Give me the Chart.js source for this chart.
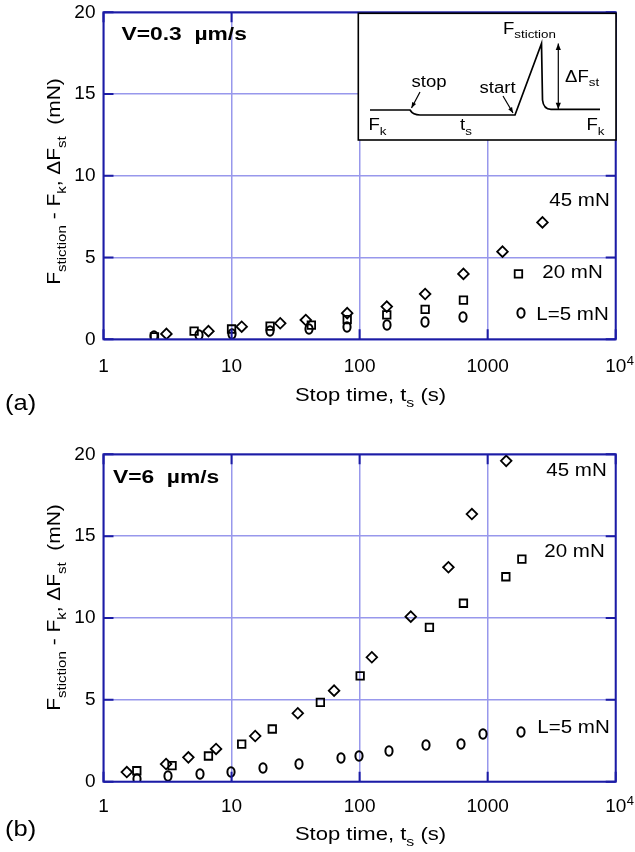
<!DOCTYPE html>
<html>
<head>
<meta charset="utf-8">
<script src="https://cdn.jsdelivr.net/npm/chart.js@4.4.1/dist/chart.umd.min.js"></script>
<style>
  html, body { margin: 0; padding: 0; background: #fff; }
  canvas { display: block; }
</style>
</head>
<body>
<canvas id="chartA" width="635" height="426"></canvas>
<canvas id="chartB" width="635" height="426"></canvas>
<script>
// axis ticks
const xTicks = [1, 10, 100, 1000, 10000];
const yTicks = [0, 5, 10, 15, 20];

// (a) V = 0.3 um/s : stop time (s) and Fstiction - Fk (mN)
const tA45 = [3.1, 6.6, 12, 24, 38, 80, 163, 325, 647, 1306, 2680];
const fA45 = [0.33, 0.5, 0.77, 0.98, 1.18, 1.6, 2.0, 2.77, 4.0, 5.36, 7.15];
const tA20 = [2.5, 5.1, 10, 20, 42, 80, 163, 325, 647, 1740];
const fA20 = [0.15, 0.5, 0.63, 0.81, 0.87, 1.2, 1.49, 1.83, 2.4, 4.0];
const tA5 = [2.5, 5.6, 10, 19.8, 40, 80, 163, 325, 647, 1830];
const fA5 = [0.2, 0.25, 0.32, 0.53, 0.61, 0.77, 0.85, 1.08, 1.35, 1.6];

// (b) V = 6 um/s
const tB45 = [1.52, 3.08, 4.6, 7.57, 15.3, 32.9, 63.2, 124.6, 251, 494, 753, 1396];
const fB45 = [0.59, 1.08, 1.49, 2.0, 2.79, 4.18, 5.56, 7.6, 10.08, 13.1, 16.35, 19.6];
const tB20 = [1.82, 3.43, 6.6, 12, 20.8, 49.4, 101, 351, 647, 1387, 1850];
const fB20 = [0.67, 0.98, 1.57, 2.3, 3.22, 4.85, 6.46, 9.43, 10.9, 12.52, 13.6];
const tB5 = [1.82, 3.21, 5.7, 9.9, 17.5, 33.7, 71.3, 99.6, 170, 331, 617, 927, 1816];
const fB5 = [0.15, 0.35, 0.45, 0.57, 0.86, 1.08, 1.43, 1.57, 1.89, 2.24, 2.3, 2.9, 3.05];

const FONT = '"Liberation Sans", Arial, Helvetica, sans-serif';
const SX = 1.16;               // the original lettering is a bit wide
const GRID = 'rgb(152,152,236)';
const FRAME = 'rgb(28,28,165)';

function pts(t, f) { return t.map((v, i) => ({ x: v, y: f[i] })); }

// text with sub/superscript parts: [[text, 'sub'|'sup'|undefined], ...]
function rich(ctx, parts, x, y, o) {
  const size = o.size, sx = o.sx || SX, wt = o.bold ? 'bold ' : '';
  const list = parts.map(([t, k]) => {
    const s = k ? size * 0.72 : size;
    ctx.font = wt + s + 'px ' + FONT;
    return { t, k, s, w: ctx.measureText(t).width };
  });
  const total = list.reduce((a, p) => a + p.w, 0);
  ctx.save();
  ctx.translate(x, y);
  if (o.rot) ctx.rotate(o.rot);
  ctx.scale(sx, 1);
  let cx = o.align === 'center' ? -total / 2 : o.align === 'right' ? -total : 0;
  ctx.fillStyle = '#000';
  ctx.textAlign = 'left';
  ctx.textBaseline = 'alphabetic';
  list.forEach(p => {
    ctx.font = wt + p.s + 'px ' + FONT;
    const dy = p.k === 'sub' ? size * 0.3 : p.k === 'sup' ? -size * 0.42 : 0;
    ctx.fillText(p.t, cx, dy);
    cx += p.w;
  });
  ctx.restore();
}

function ellipseMarker() {
  const c = document.createElement('canvas');
  c.width = 12; c.height = 14;
  const g = c.getContext('2d');
  g.lineWidth = 2;
  g.strokeStyle = '#000';
  g.beginPath();
  g.ellipse(6, 7, 3.6, 4.7, 0, 0, Math.PI * 2);
  g.stroke();
  return c;
}
const ELL = ellipseMarker();

function arrow(ctx, x1, y1, x2, y2, head) {
  ctx.beginPath(); ctx.moveTo(x1, y1); ctx.lineTo(x2, y2); ctx.stroke();
  const a = Math.atan2(y2 - y1, x2 - x1);
  ctx.beginPath();
  ctx.moveTo(x2, y2);
  ctx.lineTo(x2 - head * Math.cos(a - 0.38), y2 - head * Math.sin(a - 0.38));
  ctx.lineTo(x2 - head * Math.cos(a + 0.38), y2 - head * Math.sin(a + 0.38));
  ctx.closePath();
  ctx.fill();
}

// frame, inward ticks, titles and labels
const decor = {
  id: 'decor',
  beforeDatasetsDraw(chart) {
    // keep the ellipse image markers sharp
    chart.ctx.imageSmoothingEnabled = false;
  },
  afterDraw(chart, args, o) {
    const ctx = chart.ctx, ca = chart.chartArea;
    const xs = chart.scales.x, ys = chart.scales.y;
    ctx.imageSmoothingEnabled = true;
    ctx.save();
    ctx.strokeStyle = FRAME;
    ctx.lineWidth = 2;
    xTicks.forEach(v => {
      const px = xs.getPixelForValue(v);
      ctx.beginPath();
      ctx.moveTo(px, ca.bottom); ctx.lineTo(px, ca.bottom - 10);
      ctx.moveTo(px, ca.top); ctx.lineTo(px, ca.top + 10);
      ctx.stroke();
    });
    yTicks.forEach(v => {
      const py = ys.getPixelForValue(v);
      ctx.beginPath();
      ctx.moveTo(ca.left, py); ctx.lineTo(ca.left + 10, py);
      ctx.moveTo(ca.right, py); ctx.lineTo(ca.right - 10, py);
      ctx.stroke();
    });
    ctx.strokeRect(ca.left, ca.top, ca.right - ca.left, ca.bottom - ca.top);
    ctx.restore();

    // superscript of the 10^4 tick
    ctx.save();
    ctx.font = '19px ' + FONT;
    const w10 = ctx.measureText('10').width;
    ctx.restore();
    rich(ctx, [['4']], xs.getPixelForValue(10000) + w10 / 2 + 0.6, ca.bottom + o.tickPad + 9.5, { size: 13, sx: 1 });

    // axis titles
    rich(ctx, [['F'], ['stiction', 'sub'], [' - F'], ['k', 'sub'], [', \u0394F'], ['st', 'sub'], ['  (mN)']],
      60, 181.5, { size: 19, align: 'center', rot: -Math.PI / 2, sx: 1.1 });
    rich(ctx, [['Stop time, t'], ['s', 'sub'], [' (s)']], 370.5, ca.bottom + o.titleDy, { size: 19, align: 'center' });
    rich(ctx, [[o.panel]], 5, 410, { size: 22 });
    rich(ctx, [[o.speed]], o.speedX, ca.top + o.speedDy, { size: 19, bold: true, sx: 1.2 });

    // load labels
    o.loads.forEach(l => {
      rich(ctx, [[l.text]], ca.right - l.dx, ys.getPixelForValue(l.y), { size: 18, align: 'right', sx: 1.14 });
    });

    if (o.inset) drawInset(ctx);
  }
};

function drawInset(ctx) {
  const L = 358.3, T = 13.3, R = 616, B = 140;
  ctx.save();
  ctx.fillStyle = '#fff';
  ctx.fillRect(L, T, R - L, B - T);
  ctx.strokeStyle = '#000';
  ctx.lineWidth = 1.6;
  ctx.strokeRect(L, T, R - L, B - T);

  // friction trace: sliding, stop, hold, start, peak, drop
  ctx.lineWidth = 1.7;
  ctx.beginPath();
  ctx.moveTo(370, 110);
  ctx.lineTo(410, 110);
  ctx.quadraticCurveTo(413, 115, 420, 115);
  ctx.lineTo(515, 115);
  ctx.lineTo(541.5, 43.5);
  ctx.lineTo(542.5, 100);
  ctx.quadraticCurveTo(543.5, 109.3, 551, 109.3);
  ctx.lineTo(600, 109.3);
  ctx.stroke();

  ctx.fillStyle = '#000';
  ctx.lineWidth = 1.2;
  arrow(ctx, 420, 92, 411.5, 108, 6);
  arrow(ctx, 503, 96, 513, 113, 6);
  arrow(ctx, 558.3, 76, 558.3, 43.5, 7);
  arrow(ctx, 558.3, 76, 558.3, 109.3, 7);
  ctx.restore();

  rich(ctx, [['F'], ['stiction', 'sub']], 503, 33.5, { size: 16 });
  rich(ctx, [['\u0394F'], ['st', 'sub']], 565, 81.5, { size: 16 });
  rich(ctx, [['stop']], 411.5, 87, { size: 16 });
  rich(ctx, [['start']], 479.5, 93, { size: 16 });
  rich(ctx, [['F'], ['k', 'sub']], 368.5, 130, { size: 16 });
  rich(ctx, [['t'], ['s', 'sub']], 460, 130, { size: 16 });
  rich(ctx, [['F'], ['k', 'sub']], 586.5, 130, { size: 16 });
}

function makeChart(id, sets, cfg) {
  return new Chart(document.getElementById(id), {
    type: 'scatter',
    data: {
      datasets: [
        { label: '45 mN', data: sets[0], pointStyle: 'rectRot', pointRadius: 5.3 },
        { label: '20 mN', data: sets[1], pointStyle: 'rect', pointRadius: 5.3 },
        { label: 'L=5 mN', data: sets[2], pointStyle: ELL, pointRadius: 6 }
      ].map(d => Object.assign(d, {
        borderColor: '#000', backgroundColor: 'rgba(0,0,0,0)',
        pointBorderWidth: 1.8, pointHoverRadius: d.pointRadius, showLine: false
      }))
    },
    options: {
      responsive: false,
      animation: false,
      events: [],
      layout: { padding: { left: 0, right: 19.3, top: cfg.top, bottom: 0 } },
      plugins: { legend: { display: false }, tooltip: { enabled: false }, decor: cfg },
      scales: {
        x: {
          type: 'logarithmic', min: 1, max: 10000,
          afterBuildTicks: s => { s.ticks = xTicks.map(v => ({ value: v })); },
          afterFit: s => { s.height = 426 - cfg.bottom; s.paddingLeft = 0; s.paddingRight = 0; },
          grid: { color: GRID, lineWidth: 1.5, drawTicks: false },
          border: { display: false },
          ticks: {
            padding: cfg.tickPad, color: '#000', maxRotation: 0, autoSkip: false,
            font: { family: FONT, size: 19 },
            callback: v => (v === 10000 ? '10' : String(v))
          }
        },
        y: {
          min: 0, max: 20,
          afterBuildTicks: s => { s.ticks = yTicks.map(v => ({ value: v })); },
          afterFit: s => { s.width = 103.5; s.paddingTop = 0; s.paddingBottom = 0; },
          grid: { color: GRID, lineWidth: 1.5, drawTicks: false },
          border: { display: false },
          ticks: { padding: 8, color: '#000', font: { family: FONT, size: 19 } }
        }
      }
    },
    plugins: [decor]
  });
}

makeChart('chartA', [pts(tA45, fA45), pts(tA20, fA20), pts(tA5, fA5)], {
  top: 12.3, bottom: 339.3, tickPad: 16, titleDy: 61.5,
  panel: '(a)', speed: 'V=0.3  \u00b5m/s', speedX: 121.5, speedDy: 27.7, inset: true,
  loads: [{ text: '45 mN', y: 8.15, dx: 6 }, { text: '20 mN', y: 3.77, dx: 13 }, { text: 'L=5 mN', y: 1.18, dx: 7 }]
});

makeChart('chartB', [pts(tB45, fB45), pts(tB20, fB20), pts(tB5, fB5)], {
  top: 28.3, bottom: 355.7, tickPad: 14, titleDy: 58.3,
  panel: '(b)', speed: 'V=6  \u00b5m/s', speedX: 113, speedDy: 29, inset: false,
  loads: [{ text: '45 mN', y: 18.67, dx: 9 }, { text: '20 mN', y: 13.71, dx: 11 }, { text: 'L=5 mN', y: 2.99, dx: 6 }]
});
</script>
</body>
</html>
